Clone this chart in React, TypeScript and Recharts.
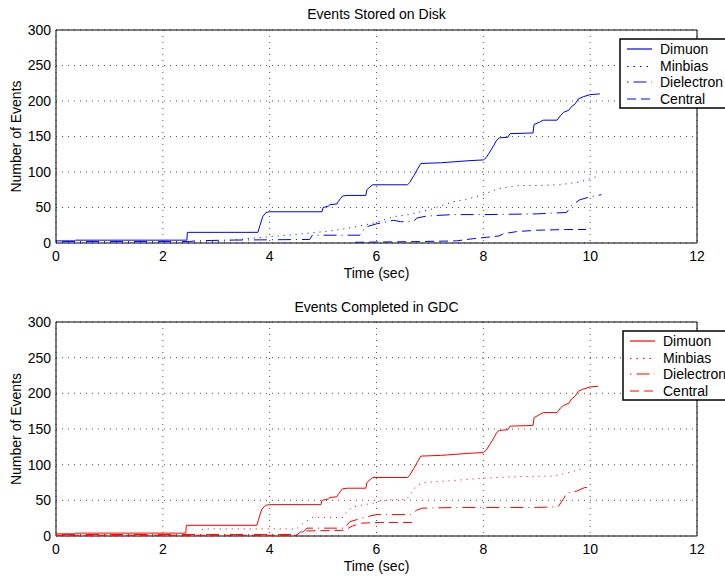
import React from 'react';
import { LineChart, Line, XAxis, YAxis, CartesianGrid, ReferenceArea } from 'recharts';

const xTicks = [0, 2, 4, 6, 8, 10, 12];
const yTicks = [0, 50, 100, 150, 200, 250, 300];
const seriesNames = ['Dimuon', 'Minbias', 'Dielectron', 'Central'];
const panelTitles = ['Events Stored on Disk', 'Events Completed in GDC'];
const xLabel = 'Time (sec)';
const yLabel = 'Number of Events';

// [time (sec), number of events]
const diskDimuon = [
  [0, 3], [0.35, 3], [0.36, 4], [2.45, 4], [2.46, 15], [3.78, 15], [3.82, 25], [3.87, 37], [3.93, 43],
  [4.0, 44], [4.98, 44], [5.0, 50], [5.1, 52], [5.13, 54], [5.26, 55], [5.28, 58], [5.33, 63], [5.36, 66],
  [5.45, 67], [5.8, 67], [5.82, 75], [5.88, 79], [5.93, 82], [6.58, 82], [6.62, 85], [6.7, 95], [6.76, 103],
  [6.83, 112], [7.2, 113], [7.75, 116], [8.0, 117], [8.05, 120], [8.12, 128], [8.2, 138], [8.25, 145],
  [8.3, 148], [8.46, 149], [8.5, 154], [8.93, 155], [8.95, 167], [9.05, 170], [9.12, 173], [9.38, 173],
  [9.45, 180], [9.5, 184], [9.6, 187], [9.65, 192], [9.72, 196], [9.78, 203], [9.87, 206], [10.0, 209], [10.18, 210],
];
const diskMinbias = [
  [0, 0], [2.4, 0], [2.5, 1], [3.0, 2], [3.3, 4], [3.57, 6], [4.0, 9], [4.5, 12], [5.13, 17], [5.4, 20],
  [5.69, 24], [6.0, 29], [6.31, 37], [6.6, 40], [7.0, 47], [7.43, 58], [7.7, 62], [8.0, 68], [8.18, 74],
  [8.4, 78], [8.69, 81], [9.0, 81], [9.43, 82], [9.81, 86], [10.1, 93],
];
const diskDielectron = [
  [0, 2], [2.5, 2], [2.6, 3], [3.13, 4], [4.75, 5], [4.8, 11], [5.69, 11], [5.75, 18], [5.82, 23], [6.0, 27],
  [6.32, 32], [6.45, 30], [6.69, 30], [6.75, 35], [6.94, 38], [7.43, 40], [8.0, 40], [9.0, 41], [9.56, 43],
  [9.65, 53], [9.81, 61], [10.0, 65], [10.21, 68],
];
const diskCentral = [
  [5.6, 1], [6.8, 2], [7.5, 3], [7.8, 6], [8.06, 8], [8.3, 10], [8.37, 13], [8.62, 16], [9.0, 18], [9.56, 19], [9.92, 19],
];

const gdcDimuon = [
  [0, 3], [0.35, 3], [0.36, 4], [2.43, 4], [2.44, 15], [3.76, 15], [3.8, 25], [3.85, 37], [3.92, 43],
  [4.0, 44], [4.96, 44], [4.98, 50], [5.1, 52], [5.13, 54], [5.26, 55], [5.28, 58], [5.33, 63], [5.36, 66],
  [5.45, 67], [5.8, 67], [5.82, 75], [5.88, 79], [5.93, 82], [6.58, 82], [6.62, 85], [6.7, 95], [6.76, 103],
  [6.83, 112], [7.2, 113], [7.75, 116], [8.0, 117], [8.05, 120], [8.12, 128], [8.2, 138], [8.25, 145],
  [8.3, 148], [8.46, 149], [8.5, 154], [8.93, 155], [8.95, 166], [9.05, 170], [9.12, 173], [9.38, 173],
  [9.45, 180], [9.5, 183], [9.6, 186], [9.65, 192], [9.72, 196], [9.78, 203], [9.87, 206], [10.0, 209], [10.15, 210],
];
const gdcMinbias = [
  [0, 1], [2.7, 1], [2.75, 10], [4.5, 10], [4.63, 18], [4.8, 26], [5.38, 26], [5.45, 35], [5.57, 41],
  [5.94, 46], [6.0, 48], [6.31, 51], [6.56, 51], [6.65, 60], [6.75, 70], [6.88, 75], [7.3, 77], [8.0, 81],
  [8.5, 83], [9.31, 84], [9.6, 89], [9.84, 94],
];
const gdcDielectron = [
  [0, 2], [4.5, 2], [4.63, 6], [4.7, 11], [5.4, 11], [5.5, 20], [5.82, 27], [6.0, 30], [6.63, 30], [6.75, 36],
  [6.85, 39], [7.5, 40], [9.0, 40], [9.4, 41], [9.5, 52], [9.56, 60], [9.75, 63], [9.9, 68], [10.0, 68],
];
const gdcCentral = [
  [0, 1], [4.5, 1], [4.6, 7], [5.4, 8], [5.55, 14], [5.72, 18], [6.07, 19], [6.75, 19],
];

const dashes = [undefined, '1 5', '1 5 13 5', '9 5'];
const legendDashes = [undefined, '1.5 5', '1.5 5 13 5', '9 5'];
const FONT = '"Liberation Sans", Arial, Helvetica, sans-serif';

const toPts = (arr: number[][]) => arr.map(([t, v]) => ({ t, v }));

type PanelProps = {
  title: string;
  top: number;
  height: number;
  marginTop: number;
  marginBottom: number;
  titleTop: number;
  color: string;
  series: number[][][];
  legendX: number;
  legendY: number;
};

function Panel(p: PanelProps) {
  const rowGap = 16.5;
  return (
    <div style={{ position: 'absolute', left: 0, top: p.top, width: 725, height: p.height, fontFamily: FONT }}>
      <div
        style={{
          position: 'absolute', left: 56, width: 641, top: p.titleTop, textAlign: 'center',
          fontSize: 14, lineHeight: '16px', color: '#000',
        }}
      >
        {p.title}
      </div>
      <LineChart
        width={725}
        height={p.height}
        margin={{ top: p.marginTop, right: 28, bottom: p.marginBottom, left: 0 }}
        style={{ fontFamily: FONT }}
      >
        <CartesianGrid stroke="#555" strokeDasharray="1 5" />
        <XAxis
          dataKey="t"
          type="number"
          domain={[0, 12]}
          ticks={xTicks}
          allowDataOverflow
          tickLine={false}
          axisLine={false}
          height={25}
          tickSize={6}
          tickMargin={2}
          tick={{ fill: '#000', fontSize: 14 }}
          label={{ value: xLabel, position: 'bottom', offset: 0, fill: '#000', fontSize: 14 }}
        />
        <YAxis
          type="number"
          domain={[0, 300]}
          ticks={yTicks}
          allowDataOverflow
          tickLine={false}
          axisLine={false}
          width={56}
          tickSize={3}
          tickMargin={2}
          tick={{ fill: '#000', fontSize: 14 }}
          label={{
            value: yLabel, angle: -90, position: 'insideLeft', offset: 16, fill: '#000', fontSize: 14,
            style: { textAnchor: 'middle' },
          }}
        />
        <ReferenceArea x1={0} x2={12} y1={0} y2={300} fill="none" stroke="#000" strokeWidth={1} ifOverflow="visible" />
        {p.series.map((s, i) => (
          <Line
            key={seriesNames[i]}
            data={toPts(s)}
            dataKey="v"
            type="linear"
            stroke={p.color}
            strokeWidth={1}
            strokeDasharray={dashes[i]}
            dot={false}
            activeDot={false}
            isAnimationActive={false}
          />
        ))}
      </LineChart>
      <svg
        width={725}
        height={p.height}
        style={{ position: 'absolute', left: 0, top: 0, pointerEvents: 'none' }}
      >
        <rect x={p.legendX} y={p.legendY} width={130} height={69} fill="#fff" stroke="#000" strokeWidth={1.5} />
        {seriesNames.map((n, i) => {
          const cy = Math.round(p.legendY + 10 + i * rowGap);
          return (
            <g key={n}>
              <line
                x1={p.legendX + 7}
                x2={p.legendX + 32}
                y1={i === 1 ? cy + 0.5 : cy}
                y2={i === 1 ? cy + 0.5 : cy}
                stroke={p.color}
                strokeWidth={i === 1 ? 1.2 : 1.2}
                strokeDasharray={legendDashes[i]}
              />
              <text x={p.legendX + 40} y={cy + 5} fontSize={14} fill="#000" fontFamily={FONT}>
                {n}
              </text>
            </g>
          );
        })}
      </svg>
    </div>
  );
}

export default function App() {
  return (
    <div
      style={{
        position: 'fixed', left: 0, top: 0, width: 725, height: 578, overflow: 'hidden', background: '#fff',
      }}
    >
      <Panel
        title={panelTitles[0]}
        top={0}
        height={290}
        marginTop={30}
        marginBottom={22}
        titleTop={6}
        color="#0000ff"
        series={[diskDimuon, diskMinbias, diskDielectron, diskCentral]}
        legendX={620}
        legendY={39}
      />
      <Panel
        title={panelTitles[1]}
        top={290}
        height={288}
        marginTop={32}
        marginBottom={17}
        titleTop={9}
        color="#ff0000"
        series={[gdcDimuon, gdcMinbias, gdcDielectron, gdcCentral]}
        legendX={623}
        legendY={41}
      />
    </div>
  );
}
